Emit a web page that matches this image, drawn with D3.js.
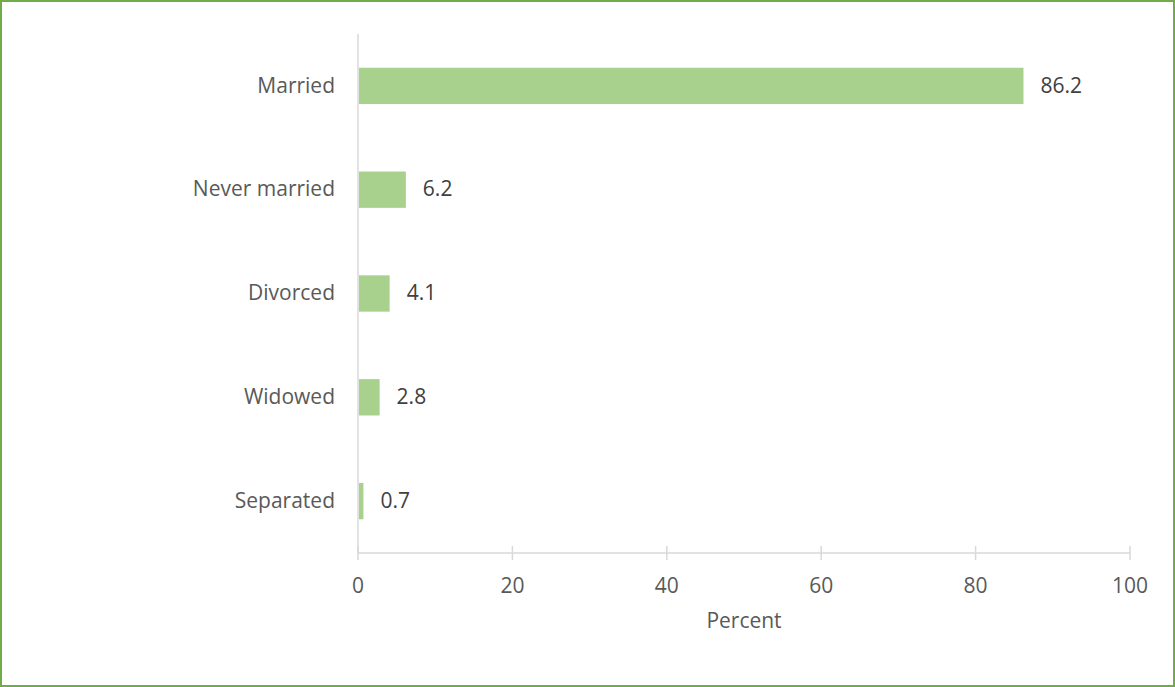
<!DOCTYPE html>
<html>
<head>
<meta charset="utf-8">
<script src="https://cdn.jsdelivr.net/npm/d3@7"></script>
<style>
    body { margin: 0; background: #fff; }
    svg { display: block; }
    text { font-family: "Open Sans", "Liberation Sans", sans-serif; }
</style>
</head>
<body>
<div id="chart"></div>
<script>
// marital status shares, percent
const categories = ["Married", "Never married", "Divorced", "Widowed", "Separated"];
const values = [86.2, 6.2, 4.1, 2.8, 0.7];
const xTicks = [0, 20, 40, 60, 80, 100];
const xTitle = "Percent";

const width = 1175;
const height = 687;
const plot = { left: 358, right: 1130, top: 34, bottom: 553 };
const fontSize = 21;

const svg = d3.select("#chart")
    .append("svg")
    .attr("width", width)
    .attr("height", height);

// outer frame
svg.append("rect")
    .attr("x", 1)
    .attr("y", 1)
    .attr("width", width - 2)
    .attr("height", height - 2)
    .attr("fill", "#fff")
    .attr("stroke", "#70ad47")
    .attr("stroke-width", 2);

const x = d3.scaleLinear()
    .domain([0, 100])
    .range([plot.left, plot.right]);

const y = d3.scaleBand()
    .domain(categories)
    .range([plot.top, plot.bottom])
    .paddingInner(0.65)
    .paddingOuter(0.325);

// bottom axis with cross ticks
const xAxis = svg.append("g")
    .attr("transform", "translate(0," + plot.bottom + ")");

xAxis.append("line")
    .attr("x1", x(0))
    .attr("x2", x(100))
    .attr("stroke", "#d9d9d9")
    .attr("stroke-width", 1.5);

xAxis.selectAll(".tick")
    .data(xTicks)
    .enter()
    .append("line")
    .attr("x1", function(d) { return x(d); })
    .attr("x2", function(d) { return x(d); })
    .attr("y1", -7)
    .attr("y2", 7)
    .attr("stroke", "#d9d9d9")
    .attr("stroke-width", 1.5);

xAxis.selectAll(".tick-label")
    .data(xTicks)
    .enter()
    .append("text")
    .attr("x", function(d) { return x(d); })
    .attr("y", 34)
    .attr("text-anchor", "middle")
    .attr("dominant-baseline", "middle")
    .attr("fill", "#595959")
    .attr("font-size", fontSize)
    .text(function(d) { return d; });

svg.append("text")
    .attr("x", (plot.left + plot.right) / 2)
    .attr("y", 622)
    .attr("text-anchor", "middle")
    .attr("dominant-baseline", "middle")
    .attr("fill", "#595959")
    .attr("font-size", fontSize)
    .text(xTitle);

// vertical axis line
svg.append("line")
    .attr("x1", x(0))
    .attr("x2", x(0))
    .attr("y1", plot.top)
    .attr("y2", plot.bottom)
    .attr("stroke", "#d9d9d9")
    .attr("stroke-width", 1.5);

svg.selectAll(".cat-label")
    .data(categories)
    .enter()
    .append("text")
    .attr("x", x(0) - 23)
    .attr("y", function(d) { return y(d) + y.bandwidth() / 2 + 1; })
    .attr("text-anchor", "end")
    .attr("dominant-baseline", "middle")
    .attr("fill", "#595959")
    .attr("font-size", fontSize)
    .text(function(d) { return d; });

const rows = categories.map(function(c, i) {
    return { category: c, value: values[i] };
});

svg.selectAll(".bar")
    .data(rows)
    .enter()
    .append("rect")
    .attr("x", x(0) + 1)
    .attr("y", function(d) { return y(d.category); })
    .attr("width", function(d) { return x(d.value) - x(0) - 1; })
    .attr("height", y.bandwidth())
    .attr("fill", "#a9d18e");

svg.selectAll(".value-label")
    .data(rows)
    .enter()
    .append("text")
    .attr("x", function(d) { return x(d.value) + 17; })
    .attr("y", function(d) { return y(d.category) + y.bandwidth() / 2 + 1; })
    .attr("dominant-baseline", "middle")
    .attr("fill", "#404040")
    .attr("font-size", fontSize)
    .text(function(d) { return d.value.toFixed(1); });
</script>
</body>
</html>
